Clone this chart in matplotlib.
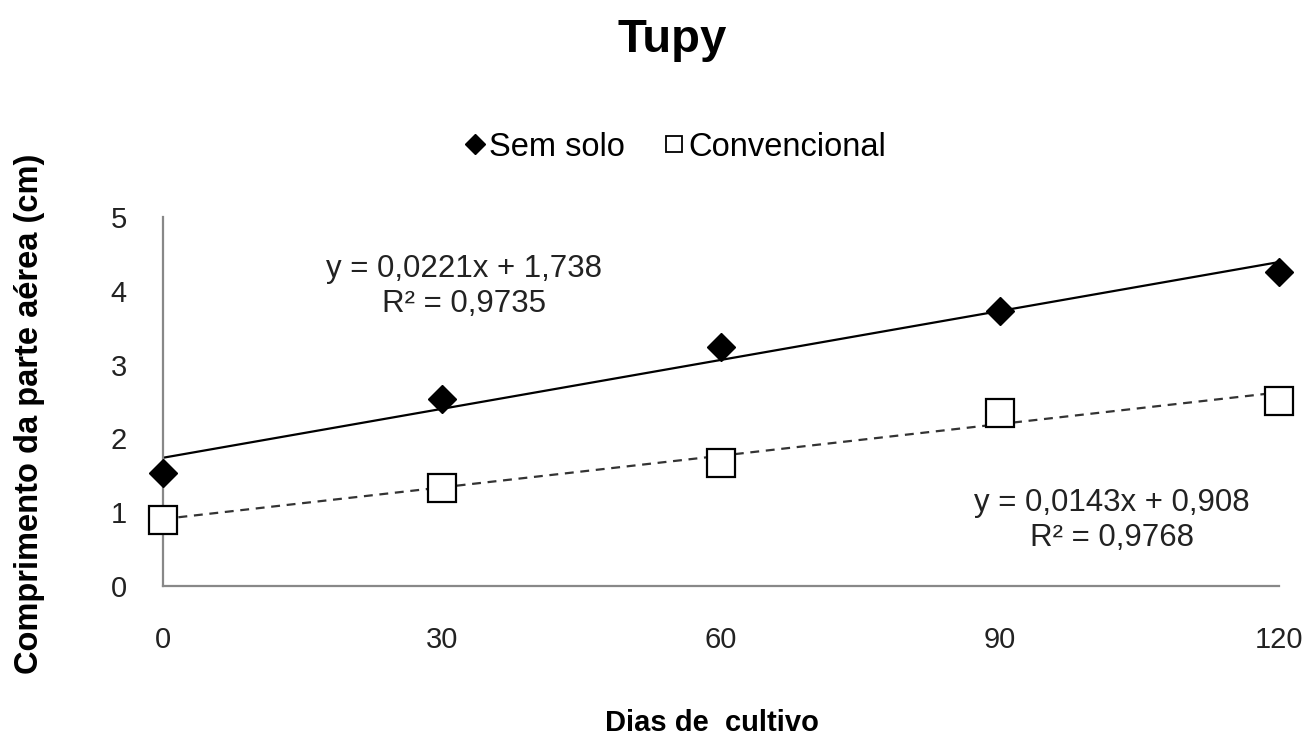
import matplotlib.pyplot as plt
import numpy as np
from matplotlib.lines import Line2D

plt.rcParams['font.family'] = ['Liberation Sans', 'DejaVu Sans']

dias = [0, 30, 60, 90, 120]
sem_solo = [1.53, 2.53, 3.24, 3.73, 4.25]
convencional = [0.89, 1.33, 1.67, 2.34, 2.51]

# linear trend coefficients (slope, intercept) and R²
trend_sem_solo = (0.0221, 1.738, 0.9735)
trend_conv = (0.0143, 0.908, 0.9768)

fig = plt.figure(figsize=(13.06, 7.35), dpi=100)
ax = fig.add_axes([0.1248, 0.2027, 0.8545, 0.502])

xs = np.array([dias[0], dias[-1]])
a, b, r2 = trend_sem_solo
ax.plot(xs, a * xs + b, color='black', lw=1.6, zorder=2)
a2, b2, r22 = trend_conv
ax.plot(xs, a2 * xs + b2, color='#333333', lw=1.6, ls=(0, (4, 3)), zorder=2)

ax.plot(dias, sem_solo, ls='none', marker='D', ms=14, color='black',
        clip_on=False, zorder=3)
ax.plot(dias, convencional, ls='none', marker='s', ms=20, mfc='white',
        mec='black', mew=1.6, clip_on=False, zorder=3)

ax.set_xlim(0, 120)
ax.set_ylim(0, 5)
ax.set_xticks(dias)
ax.set_yticks(range(6))
ax.tick_params(length=0, labelsize=21, colors='#222222')
ax.tick_params(axis='y', pad=26)
ax.tick_params(axis='x', pad=29)
for s in ['top', 'right']:
    ax.spines[s].set_visible(False)
for s in ['left', 'bottom']:
    ax.spines[s].set_color('#888888')
    ax.spines[s].set_linewidth(1.6)

def eq_text(a, b, r2):
    return ('y = %sx + %s\nR² = %s' % (f'{a:.4f}', f'{b:.3f}', f'{r2:.4f}')).replace('.', ',')

ax.text(32.4, 4.06, eq_text(a, b, r2), ha='center', va='center',
        fontsize=22.5, color='#222222', linespacing=1.2)
ax.text(102, 0.89, eq_text(a2, b2, r22), ha='center', va='center',
        fontsize=22.5, color='#222222', linespacing=1.2)

fig.text(712 / 1306, 1 - 731 / 735, 'Dias de  cultivo', ha='center',
         va='baseline', fontsize=21, fontweight='bold')
fig.text(30 / 1306, 1 - 414 / 735, 'Comprimento da parte aérea (cm)',
         ha='center', va='center', rotation=90, fontsize=23.5,
         fontweight='bold')
fig.text(672 / 1306, 1 - 52 / 735, 'Tupy', ha='center', va='baseline',
         fontsize=34, fontweight='bold')

handles = [
    Line2D([], [], ls='none', marker='D', ms=10, color='black'),
    Line2D([], [], ls='none', marker='s', ms=12, mfc='white', mec='black',
           mew=1.3),
]
fig.legend(handles, ['Sem solo', 'Convencional'], loc='center',
           bbox_to_anchor=(674 / 1306, 1 - 147 / 735), ncol=2,
           frameon=False, fontsize=23.5, handletextpad=0.05,
           columnspacing=1.1, handlelength=0.8)

fig.savefig('out.png', dpi=100)
